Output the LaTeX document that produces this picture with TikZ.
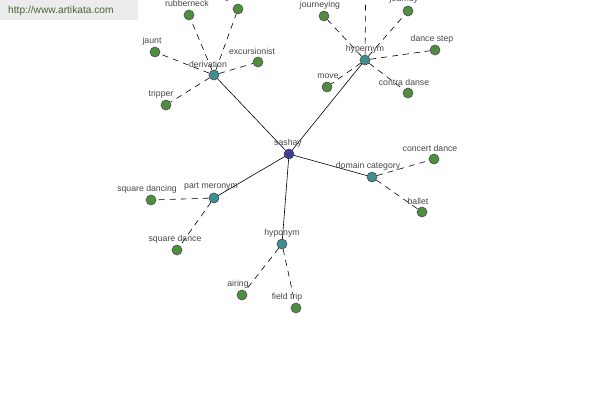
\documentclass[tikz,border=0pt]{standalone}
\usepackage{fontspec}
\setmainfont{Liberation Sans}
\usetikzlibrary{backgrounds}
\definecolor{leafgreen}{RGB}{78,142,62}
\definecolor{hubteal}{RGB}{62,142,146}
\definecolor{rootblue}{RGB}{62,62,146}
\definecolor{labelgray}{RGB}{70,70,70}
\definecolor{wmgray}{RGB}{236,236,236}
\definecolor{wmtext}{RGB}{70,100,50}
\tikzset{
  leaf/.style={circle,draw=black!70,fill=leafgreen,line width=0.6pt,minimum size=10pt,inner sep=0pt},
  hub/.style={circle,draw=black!70,fill=hubteal,line width=0.6pt,minimum size=10pt,inner sep=0pt},
  root/.style={circle,draw=black!70,fill=rootblue,line width=0.6pt,minimum size=10pt,inner sep=0pt},
  lbl/.style={text=labelgray,font=\fontsize{8.7}{9}\selectfont,inner sep=0pt},
  solidedge/.style={draw=black,line width=0.6pt},
  dashedge/.style={draw=black,line width=0.6pt,dash pattern=on 6pt off 5pt},
}
\begin{document}
\begin{tikzpicture}[x=1pt,y=-1pt]
\useasboundingbox (0,0) rectangle (600,400);
\clip (0,0) rectangle (600,400);
% watermark
\node[fill=wmgray,minimum width=138pt,minimum height=20pt,anchor=north west,inner sep=0pt] (wm) at (0,0) {};
\node[text=wmtext,font=\fontsize{10.2}{11}\selectfont,anchor=west,inner sep=0pt] (wmt) at (8,11) {http://www.artikata.com};
% nodes
\node[root] (sashay) at (289,154) {};
\node[hub] (deriv) at (214,75) {};
\node[hub] (hyper) at (365,60) {};
\node[hub] (partm) at (214,198) {};
\node[hub] (hypo) at (282,244) {};
\node[hub] (domain) at (372,177) {};
\node[leaf] (rubberneck) at (189,15) {};
\node[leaf] (sightseer) at (238,9) {};
\node[leaf] (jaunt) at (155,52) {};
\node[leaf] (excursionist) at (258,62) {};
\node[leaf] (tripper) at (166,105) {};
\node[leaf] (journeying) at (324,16) {};
\node[leaf] (journey) at (408,11) {};
\coordinate (upper) at (366,-40);
\node[leaf] (dancestep) at (435,50) {};
\node[leaf] (move) at (327,87) {};
\node[leaf] (contradanse) at (408,93) {};
\node[leaf] (concertdance) at (434,159) {};
\node[leaf] (ballet) at (422,212) {};
\node[leaf] (squaredancing) at (151,200) {};
\node[leaf] (squaredance) at (177,250) {};
\node[leaf] (airing) at (242,295) {};
\node[leaf] (fieldtrip) at (296,308) {};
% labels
\node[lbl] (l-sashay) at (288,143) {sashay};
\node[lbl] (l-deriv) at (208,64) {derivation};
\node[lbl] (l-hyper) at (365,49) {hypernym};
\node[lbl] (l-partm) at (211,187) {part meronym};
\node[lbl] (l-hypo) at (282,233) {hyponym};
\node[lbl] (l-domain) at (368,166) {domain category};
\node[lbl] (l-rubberneck) at (187,3) {rubberneck};
\node[lbl] (l-sightseer) at (236,-3) {sightseer};
\node[lbl] (l-jaunt) at (152,41) {jaunt};
\node[lbl] (l-excursionist) at (252,51) {excursionist};
\node[lbl] (l-tripper) at (161,94) {tripper};
\node[lbl] (l-journeying) at (320,5) {journeying};
\node[lbl] (l-journey) at (404,-1) {journey};
\node[lbl] (l-dancestep) at (432,39) {dance step};
\node[lbl] (l-move) at (328,76) {move};
\node[lbl] (l-contradanse) at (404,82) {contra danse};
\node[lbl] (l-concertdance) at (430,148) {concert dance};
\node[lbl] (l-ballet) at (418,201) {ballet};
\node[lbl] (l-squaredancing) at (147,189) {square dancing};
\node[lbl] (l-squaredance) at (175,239) {square dance};
\node[lbl] (l-airing) at (238,284) {airing};
\node[lbl] (l-fieldtrip) at (287,297) {field trip};
% edges
\begin{scope}[on background layer]
\clip (0,0) rectangle (600,400);
\path[solidedge] (sashay.center) -- (deriv.center);
\path[solidedge] (sashay.center) -- (hyper.center);
\path[solidedge] (sashay.center) -- (partm.center);
\path[solidedge] (sashay.center) -- (hypo.center);
\path[solidedge] (sashay.center) -- (domain.center);
\foreach \t in {rubberneck,sightseer,jaunt,excursionist,tripper}
  \path[dashedge] (deriv) -- (\t);
\foreach \t in {journeying,journey,dancestep,move,contradanse}
  \path[dashedge] (hyper) -- (\t);
\path[dashedge] (hyper) -- (upper);
\foreach \t in {concertdance,ballet}
  \path[dashedge] (domain) -- (\t);
\foreach \t in {squaredancing,squaredance}
  \path[dashedge] (partm) -- (\t);
\foreach \t in {airing,fieldtrip}
  \path[dashedge] (hypo) -- (\t);
\end{scope}
\end{tikzpicture}
\end{document}
